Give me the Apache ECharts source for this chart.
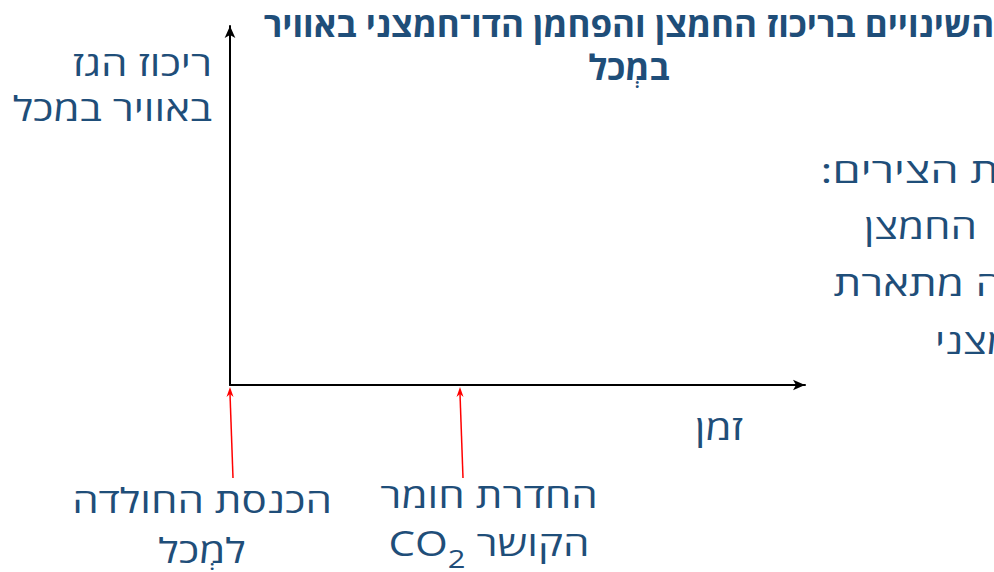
<!DOCTYPE html>
<html>
<head>
<meta charset="utf-8">
<script src="https://cdn.jsdelivr.net/npm/echarts@6/dist/echarts.min.js"></script>
<style>
  html, body { margin: 0; padding: 0; background: #fff; overflow: hidden; }
  #chart { width: 994px; height: 572px; }
</style>
</head>
<body>
<div id="chart"></div>
<script>
// axes are unitless: time and gas concentration
const timeRange = [0, 10];
const concRange = [0, 10];
// events marked with red arrows under the time axis
const eventTimes = [0, 4];
const eventLines1 = ['הכנסת החולדה', 'החדרת חומר'];
const eventLines2 = ['למְכל', 'הקושר'];
const eventHasCO2 = [false, true];

const RLM = '\u200F';
const blue = '#1f4e79';
const font = '"Open Sans", "Liberation Sans", sans-serif';
const bodyFont = '34px ' + font;
const sx = 1.24; // body text in the original is drawn wider
const labelX = [202, 489];
const labelY = [[500, 550], [495, 543]];

const chartDom = document.getElementById('chart');
const chart = echarts.init(chartDom, null, { renderer: 'svg' });

function txt(x, y, text, align, scale) {
    return { type: 'text', x: x, y: y, scaleX: scale || sx, style: { text: text, font: bodyFont, fill: blue, textAlign: align, textVerticalAlign: 'middle' } };
}

const option = {
    animation: false,
    title: {
        text: 'השינויים בריכוז החמצן והפחמן הדו־חמצני באוויר\nבמְכל',
        left: 624,
        top: -3,
        textAlign: 'center',
        textStyle: { fontFamily: font, fontSize: 35, fontWeight: 'bold', color: blue, lineHeight: 43 }
    },
    grid: { left: 230, right: 189, top: 26, bottom: 187, containLabel: false },
    xAxis: {
        type: 'value', min: timeRange[0], max: timeRange[1],
        axisLine: { show: true, symbol: ['none', 'arrow'], symbolSize: [8, 12], lineStyle: { color: '#000', width: 2 } },
        axisTick: { show: false }, axisLabel: { show: false }, splitLine: { show: false }
    },
    yAxis: {
        type: 'value', min: concRange[0], max: concRange[1],
        axisLine: { show: true, symbol: ['none', 'arrow'], symbolSize: [8, 12], lineStyle: { color: '#000', width: 2 } },
        axisTick: { show: false }, axisLabel: { show: false }, splitLine: { show: false }
    },
    graphic: [
        // y axis name
        txt(212, 63, 'ריכוז הגז', 'right'),
        txt(212, 108, 'באוויר במכל', 'right'),
        // x axis name
        txt(695, 427, 'זמן', 'left'),
        // instructions text, cut off at the right edge in the original
        txt(999, 170, RLM + 'ת הצירים:' + RLM, 'right', 1.33),
        txt(977, 226, 'החמצן', 'right'),
        txt(1003, 283, RLM + 'ה מתארת', 'right', 1.29),
        txt(935, 341, RLM + 'מצני', 'left')
    ],
    series: [{
        type: 'custom',
        clip: false,
        silent: true,
        data: eventTimes.map((t, i) => [t, concRange[0], i]),
        renderItem: function (params, api) {
            const i = api.value(2);
            const p = api.coord([api.value(0), api.value(1)]);
            const x = p[0], y = p[1];
            const cx = labelX[i];
            const children = [
                { type: 'line', shape: { x1: x + 3, y1: y + 93, x2: x, y2: y + 9 }, style: { stroke: '#ff0000', lineWidth: 1.5 } },
                { type: 'polygon', shape: { points: [[x, y + 2], [x - 3.5, y + 12], [x, y + 9], [x + 3.5, y + 12]] }, style: { fill: '#ff0000' } },
                { type: 'text', x: cx, y: labelY[i][0], scaleX: sx, style: { text: eventLines1[i], font: bodyFont, fill: blue, align: 'center', verticalAlign: 'middle' } }
            ];
            if (eventHasCO2[i]) {
                children.push({ type: 'text', x: cx, y: labelY[i][1], scaleX: sx, style: {
                    text: '{b|CO}{s|2}{b| ' + eventLines2[i] + '}',
                    align: 'center', verticalAlign: 'middle',
                    rich: {
                        b: { fontSize: 34, fontFamily: font, fill: blue, lineHeight: 40 },
                        s: { fontSize: 25, fontFamily: font, fill: blue, padding: [30, 0, 0, 0], lineHeight: 40 }
                    }
                } });
            } else {
                children.push({ type: 'text', x: cx, y: labelY[i][1], scaleX: sx, style: { text: eventLines2[i], font: bodyFont, fill: blue, align: 'center', verticalAlign: 'middle' } });
            }
            return { type: 'group', children: children };
        }
    }]
};

chart.setOption(option);
window.addEventListener('resize', () => chart.resize());
</script>
</body>
</html>
